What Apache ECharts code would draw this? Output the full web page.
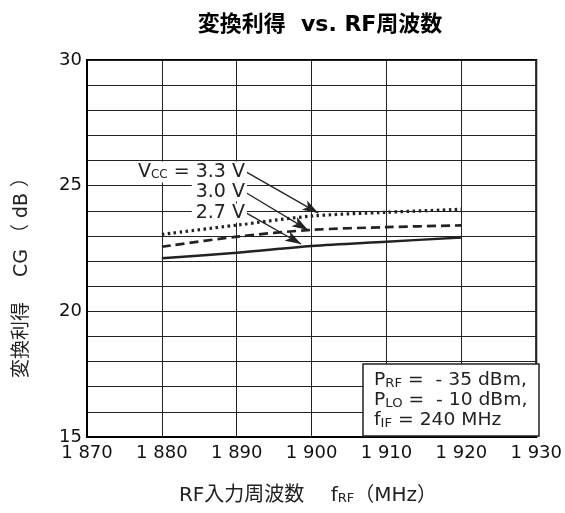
<!DOCTYPE html>
<html><head><meta charset="utf-8">
<script src="https://cdn.jsdelivr.net/npm/echarts@6/dist/echarts.min.js"></script>
<style>html,body{margin:0;padding:0;background:#fff}#c{width:565px;height:513px}</style>
</head><body><div id="c"></div>
<script>
var FONT = '"DejaVu Sans", "Noto Sans CJK JP", sans-serif';
var freqs = [1880, 1890, 1900, 1910, 1920];
var cg33 = [23.06, 23.43, 23.79, 23.94, 24.06];
var cg30 = [22.57, 22.97, 23.24, 23.35, 23.42];
var cg27 = [22.11, 22.33, 22.60, 22.77, 22.94];
var xTicks = [1870, 1880, 1890, 1900, 1910, 1920, 1930];
var yTicks = [15, 20, 25, 30];
// arrow annotations: [startX, startY, endX, endY] in data units
var arrows = [
  [1891.3, 25.54, 1900.9, 23.91],
  [1891.3, 24.71, 1899.5, 23.24],
  [1891.3, 23.91, 1898.6, 22.68]
];

function pairs(xs, ys){ return xs.map(function(x,i){return [x, ys[i]];}); }
var chart = echarts.init(document.getElementById('c'), null, {renderer:'canvas'});
var axisCol = '#000';
var rich = function(fs){ return {n:{fontSize:fs, fontFamily:FONT, fill:'#222'}, s:{fontSize:12, fontFamily:FONT, fill:'#222', padding:[Math.round(fs*0.3),0,0,0]}}; };
var option = {
  backgroundColor:'#fff',
  animation:false,
  textStyle:{fontFamily:FONT},
  title:{text:'変換利得  vs. RF周波数', left:315, top:9, textAlign:'center',
    textStyle:{fontFamily:FONT, fontSize:22, fontWeight:'bold', color:'#000'}},
  grid:{left:87, right:25, top:60, bottom:76, show:true, borderColor:'#000', borderWidth:2, backgroundColor:'transparent'},
  xAxis:{type:'value', min:1870, max:1930, interval:10,
    axisLine:{show:true, lineStyle:{color:axisCol, width:2}},
    axisTick:{show:false},
    splitLine:{show:true, lineStyle:{color:'#222', width:1}},
    axisLabel:{color:'#111', fontSize:18, fontFamily:FONT, margin:7,
      formatter:function(v){ return xTicks.indexOf(v)>=0 ? String(v).replace(/^(\d)(\d{3})$/, '$1 $2') : ''; }}
  },
  yAxis:{type:'value', min:15, max:30, interval:1,
    axisLine:{show:true, lineStyle:{color:axisCol, width:2}},
    axisTick:{show:false},
    splitLine:{show:true, lineStyle:{color:'#222', width:1}},
    axisLabel:{color:'#111', fontSize:18, fontFamily:FONT, margin:5,
      formatter:function(v){ return yTicks.indexOf(v)>=0 ? String(v) : ''; }}
  },
  series:[
    {type:'line', name:'3.3 V', data:pairs(freqs, cg33), showSymbol:false, smooth:0.3,
      lineStyle:{color:'#222', width:3.2, type:[2.5,3.5]}, z:5,
      markLine:{silent:true, symbol:['none','arrow'], symbolSize:[8,16],
        lineStyle:{color:'#222', width:1.3, type:'solid'}, label:{show:false},
        data:arrows.map(function(a){return [{coord:[a[0],a[1]]},{coord:[a[2],a[3]]}];})}},
    {type:'line', name:'3.0 V', data:pairs(freqs, cg30), showSymbol:false, smooth:0.3,
      lineStyle:{color:'#222', width:2.7, type:[9,5]}, z:5},
    {type:'line', name:'2.7 V', data:pairs(freqs, cg27), showSymbol:false, smooth:0.3,
      lineStyle:{color:'#222', width:2.4, type:'solid'}, z:5}
  ],
  graphic:[
    // curve labels
    {type:'text', x:247, y:172, z:20, style:{
      text:'{n|V}{s|CC}{n| = 3.3 V}', align:'right', verticalAlign:'middle',
      backgroundColor:'#fff', padding:[1,2,1,4], rich:rich(19)}},
    {type:'text', x:247, y:192, z:20, style:{
      text:'3.0 V', align:'right', verticalAlign:'middle', fontSize:19, fontFamily:FONT, fill:'#222',
      backgroundColor:'#fff', padding:[0,2,0,4]}},
    {type:'text', x:247, y:213, z:20, style:{
      text:'2.7 V', align:'right', verticalAlign:'middle', fontSize:19, fontFamily:FONT, fill:'#222',
      backgroundColor:'#fff', padding:[0,2,0,4]}},
    // conditions box
    {type:'rect', z:20, shape:{x:363, y:364, width:176, height:72}, style:{fill:'#fff', stroke:'#222', lineWidth:1.5}},
    {type:'text', x:374, y:381, scaleX:1.1, z:21, style:{text:'{n|P}{s|RF}{n| =  - 35 dBm,}', verticalAlign:'middle', rich:rich(17)}},
    {type:'text', x:374, y:401, scaleX:1.1, z:21, style:{text:'{n|P}{s|LO}{n| =  - 10 dBm,}', verticalAlign:'middle', rich:rich(17)}},
    {type:'text', x:374, y:421, scaleX:1.1, z:21, style:{text:'{n|f}{s|IF}{n| = 240 MHz}', verticalAlign:'middle', rich:rich(17)}},
    // axis titles
    {type:'text', x:308, y:496, z:20, style:{text:'{n|RF入力周波数　 f}{s|RF}{n|（MHz）}', align:'center', verticalAlign:'middle',
      rich:{n:{fontSize:20, fontFamily:FONT, fill:'#222'}, s:{fontSize:13, fontFamily:FONT, fill:'#222', padding:[6,0,0,0]}}}},
    {type:'text', x:22, y:273, rotation:Math.PI/2, z:20, style:{text:'変換利得　 CG （ dB ）', align:'center', verticalAlign:'middle',
      fontSize:19, fontFamily:FONT, fill:'#222'}}
  ]
};
chart.setOption(option);
</script>
</body></html>
